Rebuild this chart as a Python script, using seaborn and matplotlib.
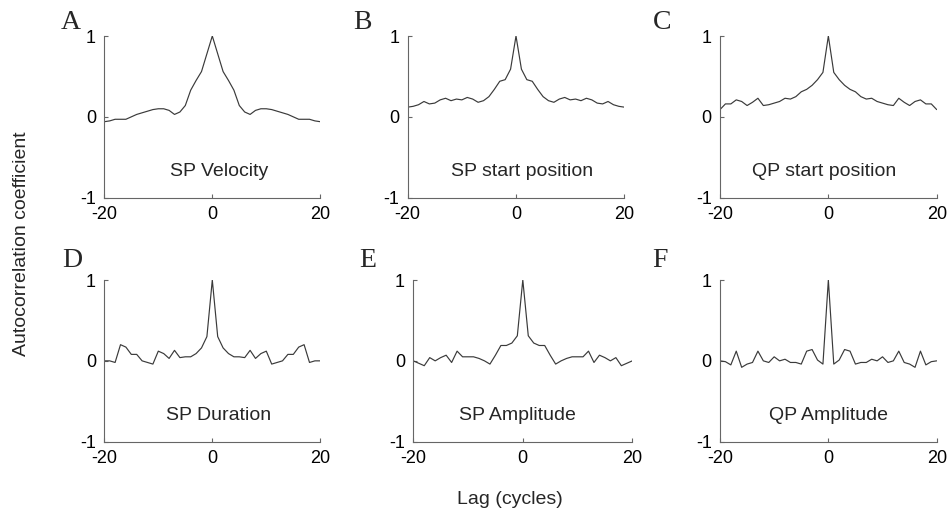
import matplotlib
matplotlib.use("Agg")
import matplotlib.pyplot as plt
import seaborn as sns
import pandas as pd

# ---- data ----
lags = list(range(-20, 21))

sp_velocity = [-0.06, -0.05, -0.03, -0.03, -0.03, 0.00, 0.03, 0.05, 0.07, 0.09,
               0.10, 0.10, 0.08, 0.03, 0.06, 0.14, 0.33, 0.45, 0.56, 0.78,
               1.00,
               0.78, 0.56, 0.45, 0.33, 0.14, 0.06, 0.03, 0.08, 0.10, 0.10,
               0.09, 0.07, 0.05, 0.03, 0.00, -0.03, -0.03, -0.03, -0.05, -0.06]

sp_start = [0.12, 0.13, 0.15, 0.19, 0.16, 0.17, 0.21, 0.23, 0.20, 0.22,
            0.21, 0.24, 0.22, 0.18, 0.20, 0.25, 0.34, 0.44, 0.46, 0.59,
            1.00,
            0.59, 0.46, 0.44, 0.34, 0.25, 0.20, 0.18, 0.22, 0.24, 0.21,
            0.22, 0.20, 0.23, 0.21, 0.17, 0.16, 0.19, 0.15, 0.13, 0.12]

qp_start = [0.09, 0.16, 0.16, 0.21, 0.19, 0.14, 0.18, 0.23, 0.14, 0.15,
            0.17, 0.19, 0.23, 0.22, 0.25, 0.31, 0.34, 0.39, 0.46, 0.55,
            1.00,
            0.55, 0.46, 0.39, 0.34, 0.31, 0.25, 0.22, 0.23, 0.19, 0.17,
            0.15, 0.14, 0.23, 0.18, 0.14, 0.19, 0.21, 0.16, 0.16, 0.09]

sp_duration = [0.00, 0.00, -0.02, 0.20, 0.17, 0.08, 0.08, 0.00, -0.02, -0.04,
               0.12, 0.09, 0.03, 0.13, 0.04, 0.05, 0.05, 0.09, 0.16, 0.30,
               1.00,
               0.30, 0.16, 0.09, 0.05, 0.05, 0.04, 0.13, 0.03, 0.09, 0.12,
               -0.04, -0.02, 0.00, 0.08, 0.08, 0.17, 0.20, -0.02, 0.00, 0.00]

sp_amplitude = [0.00, -0.03, -0.06, 0.04, 0.00, 0.04, 0.07, -0.02, 0.12, 0.05,
                0.05, 0.05, 0.03, 0.00, -0.04, 0.07, 0.19, 0.19, 0.22, 0.31,
                1.00,
                0.31, 0.22, 0.19, 0.19, 0.07, -0.04, 0.00, 0.03, 0.05, 0.05,
                0.05, 0.12, -0.02, 0.07, 0.04, 0.00, 0.04, -0.06, -0.03, 0.00]

qp_amplitude = [0.00, -0.01, -0.05, 0.12, -0.08, -0.04, -0.02, 0.12, 0.00, -0.02,
                0.05, 0.00, 0.02, -0.02, -0.02, -0.04, 0.12, 0.14, 0.01, -0.04,
                1.00,
                -0.04, 0.01, 0.14, 0.12, -0.04, -0.02, -0.02, 0.02, 0.00, 0.05,
                -0.02, 0.00, 0.12, -0.02, -0.04, -0.08, 0.12, -0.05, -0.01, 0.00]

panel_letters = ["A", "B", "C", "D", "E", "F"]
panel_titles = ["SP Velocity", "SP start position", "QP start position",
                "SP Duration", "SP Amplitude", "QP Amplitude"]
series = [sp_velocity, sp_start, qp_start, sp_duration, sp_amplitude, qp_amplitude]
xticks = [-20, 0, 20]
yticks = [-1, 0, 1]

# ---- style ----
sns.set_style("ticks")
plt.rcParams['font.family'] = ['Liberation Sans', 'DejaVu Sans']

W, H = 953, 518
fig = plt.figure(figsize=(W / 100, H / 100), dpi=100)

# axes boxes in pixels: left, top(px of y=1), width, height
boxes = [
    (104.3, 36.0, 216.0, 161.7),
    (407.7, 36.0, 216.6, 161.7),
    (720.0, 36.0, 216.7, 161.7),
    (104.3, 280.0, 216.0, 161.7),
    (413.3, 280.0, 219.0, 161.7),
    (720.0, 280.0, 216.7, 161.7),
]
letter_pos = [(61, 29), (353, 29), (653, 29), (62, 267), (359, 267), (652, 267)]
text_x = [1.2, 1.2, -0.8, 1.2, -0.9, 0.0]

for i in range(6):
    l, t, w, h = boxes[i]
    ax = fig.add_axes([l / W, (H - t - h) / H, w / W, h / H])
    df = pd.DataFrame({"lag": lags, "r": series[i]})
    sns.lineplot(data=df, x="lag", y="r", ax=ax, color="#3a3a3a", linewidth=0.85)
    ax.set_xlim(-20, 20)
    ax.set_ylim(-1, 1)
    ax.set_xticks(xticks)
    ax.set_yticks(yticks)
    ax.set_xticklabels([str(v) for v in xticks])
    ax.set_yticklabels([str(v) for v in yticks])
    ax.set_xlabel("")
    ax.set_ylabel("")
    for s in ["top", "right"]:
        ax.spines[s].set_visible(False)
    for s in ["left", "bottom"]:
        ax.spines[s].set_color("#666666")
        ax.spines[s].set_linewidth(0.8)
    ax.tick_params(direction="in", length=3, width=0.8, color="#666666",
                   labelsize=13, labelcolor="black", pad=6)
    ax.text(text_x[i], -0.67, panel_titles[i], ha="center", va="center", fontsize=14)
    lx, ly = letter_pos[i]
    fig.text(lx / W, (H - ly) / H, panel_letters[i], ha="left", va="baseline",
             fontsize=20, family=["Liberation Serif", "DejaVu Serif"])

fig.text(510 / W, (H - 499) / H, "Lag (cycles)", ha="center", va="center", fontsize=14)
fig.text(22 / W, (H - 244) / H, "Autocorrelation coefficient", ha="center", va="center",
         rotation=90, fontsize=14)

fig.savefig("out.png", dpi=100)
